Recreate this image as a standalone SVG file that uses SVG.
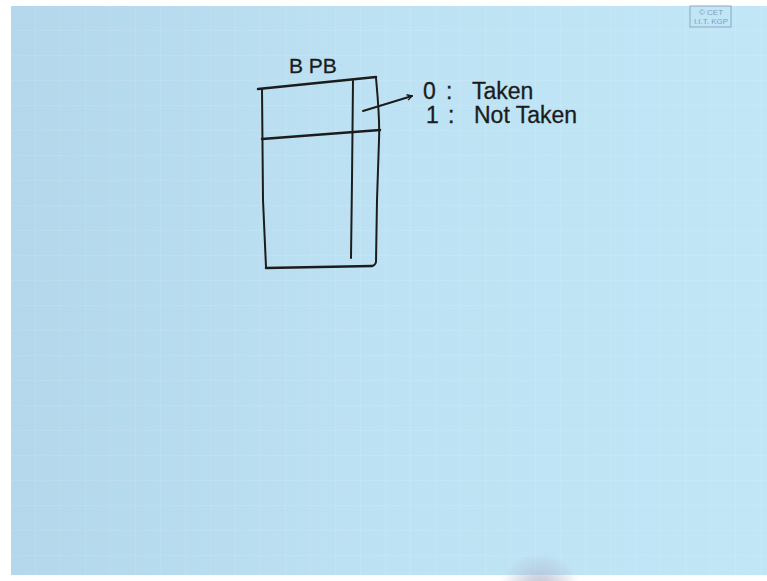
<svg xmlns="http://www.w3.org/2000/svg" width="767" height="581" viewBox="0 0 767 581">
  <defs>
    <linearGradient id="bg" x1="0" y1="0" x2="1" y2="0">
      <stop offset="0" stop-color="#b4d7eb"/>
      <stop offset="0.5" stop-color="#bde2f3"/>
      <stop offset="1" stop-color="#c1e6f6"/>
    </linearGradient>
    <pattern id="grid" width="25" height="25" patternUnits="userSpaceOnUse" x="11" y="6">
      <path d="M25 0V25M0 25H25" fill="none" stroke="#ffffff" stroke-opacity="0.18" stroke-width="1"/>
    </pattern>
    <radialGradient id="hand" cx="0.5" cy="0.5" r="0.5">
      <stop offset="0" stop-color="#b0b6ca" stop-opacity="0.85"/>
      <stop offset="1" stop-color="#b0b6ca" stop-opacity="0"/>
    </radialGradient>
    <marker id="ah" viewBox="0 0 10 10" refX="8" refY="5" markerWidth="7" markerHeight="7" orient="auto" markerUnits="userSpaceOnUse">
      <path d="M1 1L8 5L1 9" fill="none" stroke="#1c1c1c" stroke-width="2"/>
    </marker>
  </defs>
  <style>
    .ink{fill:none;stroke:#1c1c1c;stroke-width:2.5;stroke-linecap:round;stroke-linejoin:round}
    .thin{stroke-width:2}
    .lbl{font-family:"Liberation Sans",Arial,sans-serif;fill:#1c1c1c;stroke:#1c1c1c;stroke-width:0.3}
    .wm{font-family:"Liberation Sans",Arial,sans-serif;fill:#7f9fbf;font-size:8px}
  </style>
  <rect x="0" y="0" width="767" height="581" fill="#ffffff"/>
  <rect x="11" y="6" width="756" height="569" fill="url(#bg)"/>
  <rect x="11" y="6" width="756" height="569" fill="url(#grid)"/>
  <ellipse cx="540" cy="588" rx="40" ry="35" fill="url(#hand)"/>

  <g id="watermark">
    <rect x="690" y="6" width="41" height="21" fill="none" stroke="#8aa7c4" stroke-width="1"/>
    <text class="wm" x="711" y="15" text-anchor="middle">© CET</text>
    <text class="wm" x="711" y="24" text-anchor="middle">I.I.T. KGP</text>
  </g>

  <g id="bpb-label">
    <text class="lbl" x="289" y="73" font-size="21">B PB</text>
  </g>

  <g id="bpb-table">
    <path class="ink" d="M258 89 L376 77"/>
    <path class="ink thin" d="M262 89 L263 200 L266 267"/>
    <path class="ink thin" d="M376 78 C378 100 380 120 379 140 L377 200 L376 262 Q375 266 371 266"/>
    <path class="ink thin" d="M353 81 L352 180 L351 258"/>
    <path class="ink" d="M262 139 L380 130"/>
    <path class="ink" d="M266 268 L372 266"/>
  </g>

  <g id="connectors">
    <path class="ink thin" d="M363 111 L412 96" marker-end="url(#ah)"/>
  </g>

  <g id="legend">
    <text class="lbl" font-size="23" y="99"><tspan x="423">0</tspan><tspan x="446">:</tspan><tspan x="472">Taken</tspan></text>
    <text class="lbl" font-size="23" y="123"><tspan x="426">1</tspan><tspan x="448">:</tspan><tspan x="474">Not Taken</tspan></text>
  </g>
</svg>
